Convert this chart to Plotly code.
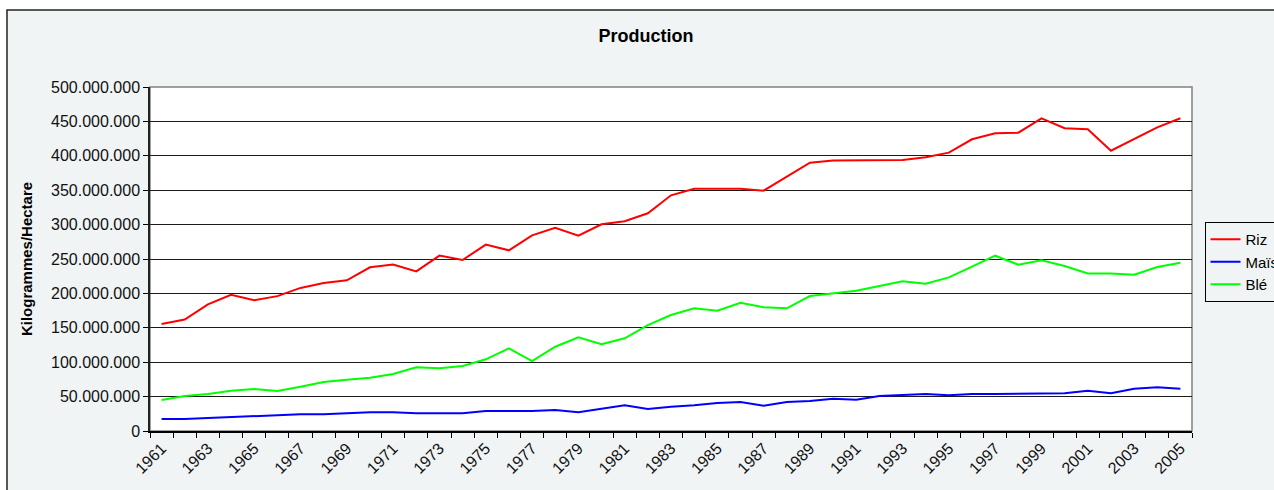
import plotly.graph_objects as go

years = list(range(1961, 2006))
# values in millions of kg/ha
riz = [155.5, 162, 184, 198, 190, 196, 208, 215, 219, 238, 242, 232, 255, 248.5, 271,
       262.6, 284.4, 295.5, 284, 300.4, 305, 316.4, 342.6, 352.2, 352.2, 352.2, 349.3, 369.7, 390, 393,
       393, 393, 394, 397.8, 404.6, 424, 432.7, 433.6, 454.5, 440, 438.5, 407.4, 424.4, 441.4, 454.5]
mais = [17.4, 17.4, 18.9, 20.3, 22.3, 22.8, 24.2, 24.2, 25.7, 27.1, 27.1, 25.7, 25.7, 25.7, 29,
        29, 29, 30.5, 27.1, 32.4, 37.3, 32, 35.3, 37.3, 40.7, 42.2, 36.8, 42.2, 43.6, 47,
        45.3, 50.9, 52.8, 53.8, 51.8, 53.8, 53.8, 53.8, 54.8, 54.8, 58.6, 54.8, 61.5, 63.5, 61.5]
ble = [45, 50.9, 53.8, 58.6, 61, 58.1, 64.4, 71.2, 74.6, 77.5, 82.8, 92.6, 91.1, 94.5, 104.2,
       120.2, 101.7, 122.5, 136.2, 126, 134.7, 154, 168.6, 178.3, 174.9, 186.5, 179.8, 178.3, 196.2, 200,
       204, 210.8, 217.5, 214, 223.3, 238.8, 254.8, 241.7, 248, 239.8, 229, 229, 227, 238.4, 244.6]

series = [("Riz", riz, "#ff0000"), ("Maïs", mais, "#0000ff"), ("Blé", ble, "#00ff00")]
label_years = [y for y in years if (y - 1961) % 2 == 0]
boundaries = [y - 0.5 for y in years] + [years[-1] + 0.5]

FONT = "Liberation Sans, Arial, sans-serif"
BG = "#f0f4f5"

fig = go.Figure()
for name, vals, col in series:
    fig.add_trace(go.Scatter(x=years, y=[v * 1e6 for v in vals], name=name, mode="lines",
                             line=dict(color=col, width=2)))

W, H = 1274, 490
L, R, T, B = 150, 82, 87, 59
pw, ph = W - L - R, H - T - B

def px2paper_x(px):
    return (px - L) / pw

def px2paper_y(py):
    return (H - B - py) / ph

fig.update_layout(
    width=W, height=H,
    margin=dict(l=L, r=R, t=T, b=B, autoexpand=False),
    paper_bgcolor="white",
    plot_bgcolor="white",
    separators=",.",
    font=dict(family=FONT, color="black", size=15),
    title=dict(text="<b>Production</b>", x=646 / W, xref="container", xanchor="center",
               y=1 - 36 / H, yref="container", yanchor="middle",
               font=dict(family=FONT, size=18, color="black")),
    showlegend=True,
    legend=dict(x=px2paper_x(1204.5), y=px2paper_y(222), xanchor="left", yanchor="top",
                bgcolor=BG, bordercolor="black", borderwidth=1,
                font=dict(family=FONT, size=15, color="black"), itemwidth=30,
                tracegroupgap=0),
    shapes=[
        dict(type="rect", xref="paper", yref="paper", layer="below",
             x0=px2paper_x(7), x1=px2paper_x(1300), y0=px2paper_y(10), y1=px2paper_y(520),
             fillcolor=BG, line=dict(color="#222222", width=1.5)),
        dict(type="rect", xref="paper", yref="paper", layer="below",
             x0=0, x1=1, y0=0, y1=1, fillcolor="white", line=dict(color="#808080", width=1.5)),
    ],
)

fig.update_xaxes(
    range=[boundaries[0], boundaries[-1]],
    tickmode="array", tickvals=label_years, ticktext=[str(y) for y in label_years],
    ticks="", tickangle=-45, showgrid=False, zeroline=False,
    showline=True, linecolor="black", linewidth=1.5,
    tickfont=dict(family=FONT, size=16, color="#111111"),
    minor=dict(tickmode="array", tickvals=boundaries, ticks="outside", ticklen=5,
               tickcolor="black", tickwidth=1, showgrid=False),
)

fig.update_yaxes(
    range=[0, 500e6], tickmode="linear", tick0=0, dtick=50e6, tickformat=",d",
    ticks="outside", ticklen=5, tickcolor="black", tickwidth=1,
    showgrid=True, gridcolor="#1a1a1a", gridwidth=1, zeroline=False,
    showline=True, linecolor="#222222", linewidth=1.5,
    tickfont=dict(family=FONT, size=16, color="#111111"),
    title=dict(text="<b>Kilogrammes/Hectare</b>", font=dict(family=FONT, size=15, color="black")),
)

fig.write_html("out.html")
